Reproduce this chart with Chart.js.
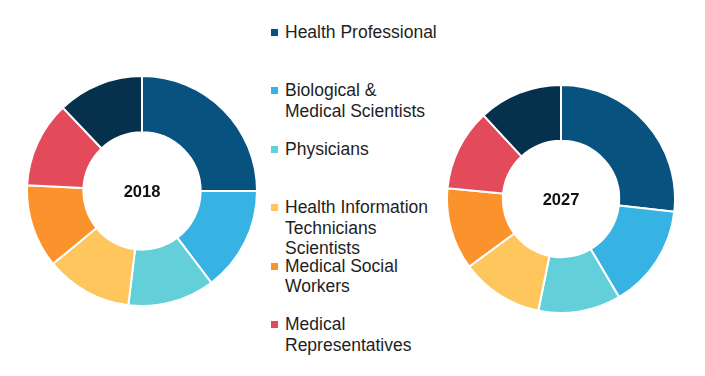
<!DOCTYPE html>
<html>
<head>
<meta charset="utf-8">
<script src="https://cdn.jsdelivr.net/npm/chart.js@4/dist/chart.umd.min.js"></script>
<style>
  html, body { margin: 0; padding: 0; background: #fff; }
  body { width: 705px; height: 376px; position: relative; overflow: hidden; font-family: "Liberation Sans", Arial, sans-serif; }
  .pie { position: absolute; }
  #legend { position: absolute; left: 0; top: 0; }
  .item { position: absolute; left: 271px; font-size: 17.5px; line-height: 20.5px; color: #1e1e1e; white-space: nowrap; }
  .item .box { position: absolute; left: 0; top: 7px; width: 7px; height: 7px; }
  .item .txt { margin-left: 14px; }
</style>
</head>
<body>
<div class="pie" style="left:26px;top:75px;width:232px;height:232px"><canvas id="chart2018"></canvas></div>
<div class="pie" style="left:446px;top:84px;width:230px;height:230px"><canvas id="chart2027"></canvas></div>
<div id="legend"></div>
<script>
// категории и доли (в %)
const categories = [
    'Health Professional',
    'Biological & Medical Scientists',
    'Physicians',
    'Health Information Technicians Scientists',
    'Medical Social Workers',
    'Medical Representatives',
    'Others'
];
// как подписи переносятся в легенде
const legendLines = [
    ['Health Professional'],
    ['Biological &', 'Medical Scientists'],
    ['Physicians'],
    ['Health Information', 'Technicians', 'Scientists'],
    ['Medical Social', 'Workers'],
    ['Medical', 'Representatives']
];
const share2018 = [25.0, 14.7, 12.2, 12.2, 11.7, 12.1, 12.1];
const share2027 = [26.8, 14.7, 11.7, 11.7, 11.6, 11.6, 11.9];
const colors = ['#08527f', '#36b3e3', '#63cfd9', '#fec65c', '#fb922c', '#e34a5a', '#06314d'];

// подпись года в центре кольца
const centerText = {
    id: 'centerText',
    afterDraw(chart, args, opts) {
        const arc = chart.getDatasetMeta(0).data[0];
        if (!arc) return;
        const ctx = chart.ctx;
        ctx.save();
        ctx.font = 'bold 16.5px "Liberation Sans", Arial, sans-serif';
        ctx.fillStyle = '#111';
        ctx.textAlign = 'center';
        ctx.textBaseline = 'middle';
        ctx.fillText(opts.text, arc.x, arc.y + 1);
        ctx.restore();
    }
};

function makeDonut(id, values, year) {
    return new Chart(document.getElementById(id), {
        type: 'doughnut',
        data: {
            labels: categories,
            datasets: [{
                data: values,
                backgroundColor: colors,
                borderColor: '#fff',
                borderWidth: 2
            }]
        },
        options: {
            responsive: true,
            maintainAspectRatio: false,
            animation: false,
            cutout: '51%',
            layout: { padding: 0 },
            plugins: {
                legend: { display: false },
                tooltip: { enabled: false },
                centerText: { text: year }
            }
        },
        plugins: [centerText]
    });
}

makeDonut('chart2018', share2018, '2018');
makeDonut('chart2027', share2027, '2027');

// легенда посередине
const legend = document.getElementById('legend');
legendLines.forEach((lines, i) => {
    const item = document.createElement('div');
    item.className = 'item';
    item.style.top = (22 + i * 58.4) + 'px';
    const box = document.createElement('span');
    box.className = 'box';
    box.style.background = colors[i];
    const txt = document.createElement('div');
    txt.className = 'txt';
    txt.innerHTML = lines.map(s => s.replace(/&/g, '&amp;')).join('<br>');
    item.appendChild(box);
    item.appendChild(txt);
    legend.appendChild(item);
});
</script>
</body>
</html>
